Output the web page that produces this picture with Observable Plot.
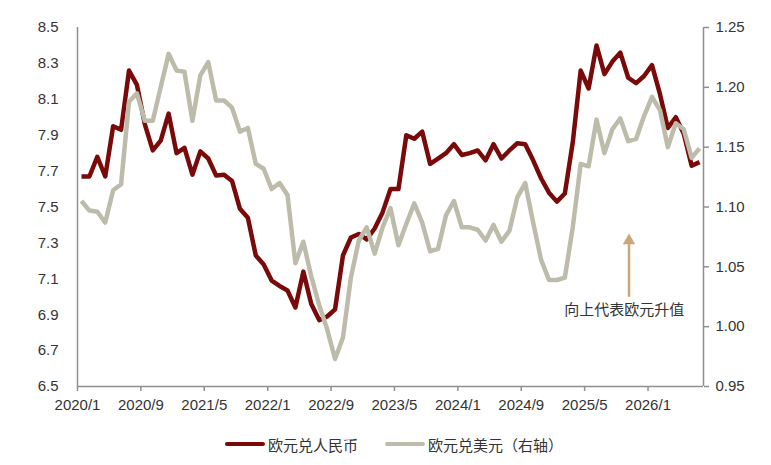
<!DOCTYPE html>
<html>
<head>
<meta charset="utf-8">
<script src="https://cdn.jsdelivr.net/npm/d3@7"></script>
<script src="https://cdn.jsdelivr.net/npm/@observablehq/plot@0.6"></script>
<style>
  body { margin: 0; background: #fff; font-family: "Liberation Sans", Arial, "Noto Sans CJK SC", sans-serif; }
  #wrap { position: relative; width: 771px; height: 465px; }
  #legend { position: absolute; left: 0; top: 420px; width: 771px; height: 45px; }
  .item { position: absolute; top: 14px; height: 20px; display: flex; align-items: center; font-size: 15px; color: #333; }
  .swatch { width: 40px; height: 4.5px; border-radius: 2px; margin-right: 3px; }
</style>
</head>
<body>
<div id="wrap">
  <div id="chart"></div>
  <div id="legend"></div>
</div>
<script>
// Month-end series, 2020/1 ... 2026/7 (79 months)
const seriesNames = ["欧元兑人民币", "欧元兑美元（右轴）"];
const eurCny = [
  7.67, 7.67, 7.78, 7.67, 7.95, 7.93, 8.26, 8.18, 7.96, 7.815,
  7.87, 8.02, 7.80, 7.83, 7.68, 7.81, 7.77, 7.675, 7.68, 7.645,
  7.49, 7.44, 7.23, 7.18, 7.09, 7.06, 7.035, 6.94, 7.14, 6.96,
  6.87, 6.89, 6.93, 7.23, 7.33, 7.35, 7.32, 7.38, 7.47, 7.60,
  7.60, 7.90, 7.88, 7.92, 7.74, 7.77, 7.80, 7.85, 7.79, 7.80,
  7.815, 7.76, 7.85, 7.77, 7.815, 7.855, 7.85, 7.76, 7.66, 7.58,
  7.53, 7.575, 7.86, 8.26, 8.16, 8.40, 8.24, 8.31, 8.36, 8.22,
  8.19, 8.23, 8.29, 8.13, 7.94, 8.00, 7.91, 7.73, 7.75
];
const eurUsd = [
  1.105, 1.097, 1.096, 1.087, 1.114, 1.119, 1.188, 1.195, 1.172, 1.172,
  1.200, 1.228, 1.214, 1.213, 1.172, 1.210, 1.221, 1.189, 1.189, 1.183,
  1.163, 1.166, 1.136, 1.132, 1.115, 1.120, 1.110, 1.053, 1.071, 1.042,
  1.018, 0.998, 0.973, 0.991, 1.041, 1.072, 1.083, 1.061, 1.083, 1.099,
  1.068, 1.086, 1.103, 1.087, 1.063, 1.065, 1.093, 1.105, 1.083, 1.083,
  1.081, 1.072, 1.085, 1.071, 1.080, 1.108, 1.120, 1.087, 1.056, 1.039,
  1.039, 1.041, 1.083, 1.136, 1.134, 1.173, 1.145, 1.165, 1.174, 1.155,
  1.157, 1.176, 1.192, 1.181, 1.150, 1.170, 1.165, 1.141, 1.149
];
const xTickLabels = ["2020/1","2020/9","2021/5","2022/1","2022/9","2023/5","2024/1","2024/9","2025/5","2026/1"];
const leftTicks = [6.5, 6.7, 6.9, 7.1, 7.3, 7.5, 7.7, 7.9, 8.1, 8.3, 8.5];
const rightTicks = [0.95, 1.00, 1.05, 1.10, 1.15, 1.20, 1.25];
const annotationText = ["向上代表欧元升值"];

const colors = { cny: "#7a0a0a", usd: "#bdbcaa", axis: "#8f8f8f", text: "#333333", arrow: "#c9a77b" };

const leftDomain = [6.5, 8.5];
const rightDomain = [0.95, 1.25];
const toLeft = r => leftDomain[0] + (r - rightDomain[0]) * (leftDomain[1] - leftDomain[0]) / (rightDomain[1] - rightDomain[0]);
const fromLeft = v => rightDomain[0] + (v - leftDomain[0]) * (rightDomain[1] - rightDomain[0]) / (leftDomain[1] - leftDomain[0]);

const nMonths = 79;
const rows = eurCny.map((v, i) => ({ i: i + 0.5, cny: v, usd: eurUsd[i] }));
const xTicks = xTickLabels.map((_, k) => k * 8);

// annotation: arrow (in data space: month position, left-axis values)
const arrowData = [{ x: 69.6, y1: 7.0, y2: 7.30 }];
const arrowHead = [{ x: 69.6, y: 7.312 }];
const labelData = [{ x: 69.0, y: 6.923, text: annotationText[0] }];

const chart = Plot.plot({
  width: 771,
  height: 420,
  marginLeft: 77,
  marginRight: 68,
  marginTop: 27,
  marginBottom: 34,
  style: { background: "transparent", fontFamily: '"Liberation Sans", Arial, "Noto Sans CJK SC", sans-serif', fontSize: "15px", color: colors.text, overflow: "visible" },
  x: { domain: [0, nMonths] },
  y: { domain: leftDomain },
  marks: [
    Plot.axisY(leftTicks, { anchor: "left", tickSize: 0, tickPadding: 19, tickFormat: d => d.toFixed(1), label: null, fontSize: 15, fill: colors.text }),
    Plot.axisY(rightTicks.map(toLeft), { anchor: "right", tickSize: 5, tickPadding: 7, tickFormat: d => fromLeft(d).toFixed(2), label: null, fontSize: 15, fill: colors.text, stroke: colors.axis, strokeWidth: 1.5 }),
    Plot.axisX(xTicks, { anchor: "bottom", tickSize: 5, tickPadding: 8, tickFormat: (d, k) => xTickLabels[Math.round(d / 8)], label: null, fontSize: 15, fill: colors.text, stroke: colors.axis, strokeWidth: 1.5 }),
    Plot.ruleX([0, nMonths], { stroke: colors.axis, strokeWidth: 1.5 }),
    Plot.ruleY([leftDomain[0]], { stroke: colors.axis, strokeWidth: 1.5 }),
    Plot.line(rows, { x: "i", y: "cny", stroke: colors.cny, strokeWidth: 4.5, strokeLinejoin: "round", strokeLinecap: "butt" }),
    Plot.line(rows, { x: "i", y: d => toLeft(d.usd), stroke: colors.usd, strokeWidth: 4.5, strokeLinejoin: "round", strokeLinecap: "butt" }),
    Plot.link(arrowData, { x1: "x", x2: "x", y1: "y1", y2: "y2", stroke: colors.arrow, strokeWidth: 2.5 }),
    Plot.dot(arrowHead, { x: "x", y: "y", symbol: "triangle", r: 4.6, fill: colors.arrow, stroke: "none" }),
    Plot.text(labelData, { x: "x", y: "y", text: "text", fontSize: 15, fill: colors.text, textAnchor: "middle", fontFamily: '"Noto Sans CJK SC", sans-serif' })
  ]
});
document.getElementById("chart").appendChild(chart);

// legend below the SVG
const legend = document.getElementById("legend");
const legendItems = [
  { name: seriesNames[0], color: colors.cny, left: 225 },
  { name: seriesNames[1], color: colors.usd, left: 385 }
];
legendItems.forEach(it => {
  const div = document.createElement("div");
  div.className = "item";
  div.style.left = it.left + "px";
  const sw = document.createElement("span");
  sw.className = "swatch";
  sw.style.background = it.color;
  const tx = document.createElement("span");
  tx.textContent = it.name;
  tx.style.fontFamily = '"Noto Sans CJK SC", sans-serif';
  div.appendChild(sw);
  div.appendChild(tx);
  legend.appendChild(div);
});
</script>
</body>
</html>
